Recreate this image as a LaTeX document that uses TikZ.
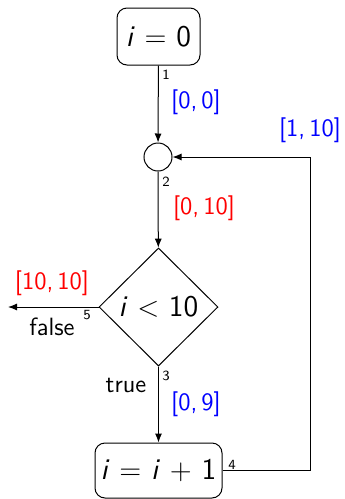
\documentclass[tikz,border=0pt]{standalone}
\usetikzlibrary{shapes.geometric,arrows.meta}
\begin{document}
\begin{tikzpicture}[x=0.5pt,y=-0.5pt,
  box/.style={draw, rounded corners=5pt, line width=0.5pt, inner sep=0pt, font=\sffamily\fontsize{15}{18}\selectfont},
  cnd/.style={draw, diamond, line width=0.5pt, inner sep=0pt, font=\sffamily\fontsize{15}{18}\selectfont},
  jn/.style={draw, circle, line width=0.5pt, inner sep=0pt, minimum size=14pt},
  arr/.style={-{Latex[length=4.5pt,width=3.5pt]}, line width=0.5pt},
  num/.style={font=\sffamily\fontsize{7}{8}\selectfont, inner sep=0pt},
  lbl/.style={font=\sffamily\fontsize{12.5}{15}\selectfont, inner sep=0pt},
  blu/.style={lbl, text=blue},
  rd/.style={lbl, text=red}]
\useasboundingbox (0,0) rectangle (344,499);
\node[box, minimum width=41.5pt, minimum height=28.5pt] (init) at (158.5,36.5) {\textit{i} $=$ 0};
\node[jn] (join) at (158,157) {};
\node[cnd, minimum width=59.5pt, minimum height=59pt] (cond) at (158.5,307) {\textit{i} $<$ 10};
\node[box, minimum width=63.5pt, minimum height=27.5pt] (inc) at (158.5,470.5) {\textit{i} $=$ \textit{i} $+$ 1};
\coordinate (exit) at (8,307);
\coordinate (loopc) at (310,157);
\draw[arr] (init) -- (join);
\draw[arr] (join) -- (cond);
\draw[arr] (cond.west) -- (exit);
\draw[arr] (cond.south) -- (inc);
\draw[arr] (inc.east) -| (loopc) -- (join);
\node[num] (n1) at (166,75) {1};
\node[num] (n2) at (166,182) {2};
\node[num] (n3) at (166,376) {3};
\node[num] (n4) at (232,465) {4};
\node[num] (n5) at (87,315) {5};
\node[blu] (l1) at (196,102) {[0,\,0]};
\node[rd] (l2) at (204,208) {[0,\,10]};
\node[rd] (l5) at (52,283) {[10,\,10]};
\node[lbl] (lf) at (52,327) {false};
\node[lbl] (lt) at (126,385) {true};
\node[blu] (l3) at (196,404) {[0,\,9]};
\node[blu] (l4) at (310,130) {[1,\,10]};
\end{tikzpicture}
\end{document}
